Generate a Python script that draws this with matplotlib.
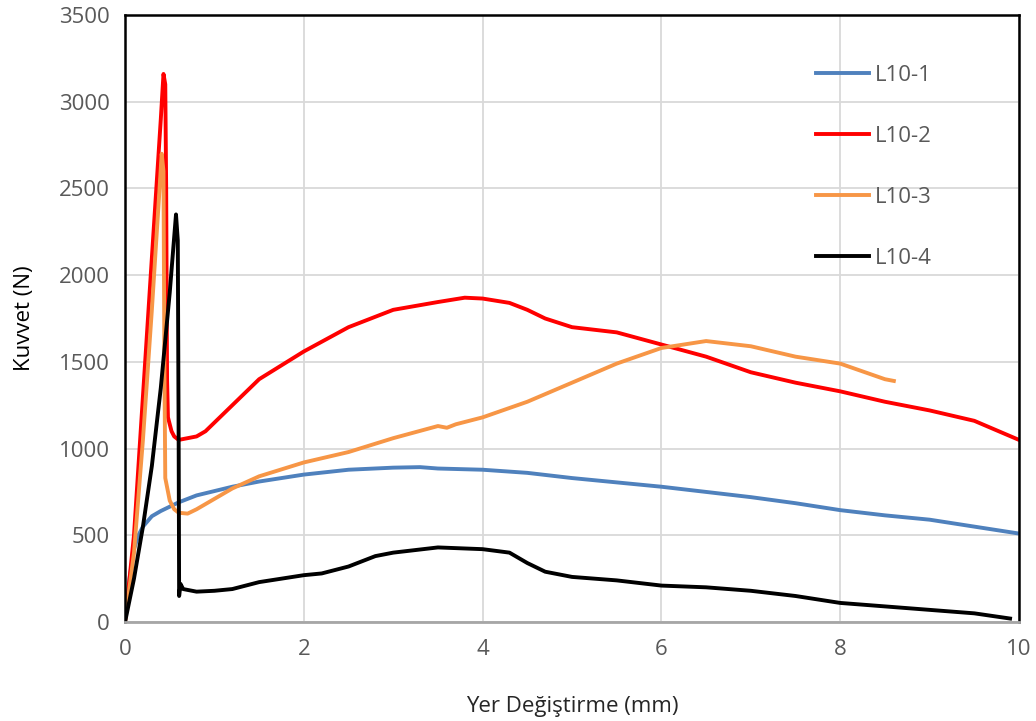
import matplotlib
import matplotlib.pyplot as plt
matplotlib.use('Agg')

# L10-1 (blue)
x1 = [0, 0.05, 0.1, 0.15, 0.2, 0.3, 0.4, 0.5, 0.6, 0.7, 0.8, 1.0, 1.2, 1.5, 2.0, 2.5, 3.0, 3.3,
      3.5, 4.0, 4.5, 5.0, 5.5, 6.0, 6.5, 7.0, 7.5, 8.0, 8.5, 9.0, 9.5, 10.0]
y1 = [0, 250, 420, 500, 550, 610, 640, 665, 690, 710, 730, 755, 780, 810, 850, 878, 890, 893,
      885, 878, 860, 830, 805, 780, 750, 720, 685, 645, 615, 590, 550, 510]

# L10-2 (red)
x2 = [0, 0.1, 0.2, 0.3, 0.4, 0.43, 0.45, 0.46, 0.47, 0.48, 0.52, 0.55, 0.6, 0.7, 0.8, 0.9, 1.0,
      1.2, 1.5, 2.0, 2.5, 3.0, 3.5, 3.8, 4.0, 4.3, 4.5, 4.7, 5.0, 5.5, 6.0, 6.5, 7.0, 7.5,
      8.0, 8.5, 9.0, 9.5, 10.0]
y2 = [0, 500, 1300, 2100, 2900, 3160, 3100, 2500, 1400, 1180, 1100, 1070, 1050, 1060, 1070, 1100,
      1150, 1250, 1400, 1560, 1700, 1800, 1845, 1870, 1865, 1840, 1800, 1750, 1700, 1670, 1600,
      1530, 1440, 1380, 1330, 1270, 1220, 1160, 1050]

# L10-3 (orange)
x3 = [0, 0.1, 0.2, 0.3, 0.38, 0.41, 0.43, 0.44, 0.45, 0.5, 0.55, 0.6, 0.7, 0.8, 1.0, 1.2, 1.5,
      2.0, 2.5, 3.0, 3.5, 3.6, 3.7, 4.0, 4.5, 5.0, 5.5, 6.0, 6.5, 7.0, 7.5, 8.0, 8.5, 8.6]
y3 = [0, 400, 1050, 1800, 2450, 2700, 2600, 1500, 830, 700, 650, 630, 625, 650, 710, 770, 840,
      920, 980, 1060, 1130, 1120, 1140, 1180, 1270, 1380, 1490, 1580, 1620, 1590, 1530, 1490,
      1400, 1390]

# L10-4 (black)
x4 = [0, 0.1, 0.2, 0.3, 0.4, 0.5, 0.57, 0.59, 0.6, 0.605, 0.62, 0.65, 0.8, 1.0, 1.2, 1.5, 2.0,
      2.2, 2.5, 2.8, 3.0, 3.5, 4.0, 4.3, 4.5, 4.7, 5.0, 5.5, 6.0, 6.5, 7.0, 7.5, 8.0, 8.5,
      9.0, 9.5, 9.9]
y4 = [0, 250, 550, 900, 1350, 1900, 2350, 2200, 1000, 150, 220, 190, 175, 180, 190, 230, 270,
      280, 320, 380, 400, 430, 420, 400, 340, 290, 260, 240, 210, 200, 180, 150, 110, 90, 70,
      50, 20]

series = [
    ('L10-1', x1, y1, '#4f81bd'),
    ('L10-2', x2, y2, '#ff0000'),
    ('L10-3', x3, y3, '#f79646'),
    ('L10-4', x4, y4, '#000000'),
]

plt.rcParams['font.family'] = ['Open Sans', 'DejaVu Sans']

fig = plt.figure(figsize=(10.36, 7.21), dpi=100)
ax = fig.add_axes([0.1207, 0.1373, 0.8629, 0.8419])

for name, xs, ys, col in series:
    ax.plot(xs, ys, color=col, lw=2.8, label=name, solid_joinstyle='round')

ax.set_xlim(0, 10)
ax.set_ylim(0, 3500)
ax.set_xticks(range(0, 11, 2))
ax.set_yticks(range(0, 3501, 500))
ax.grid(True, color='#d9d9d9', lw=1.3)
ax.set_axisbelow(True)

for side in ['top', 'right', 'left']:
    ax.spines[side].set_color('black')
    ax.spines[side].set_linewidth(1.8)
ax.spines['bottom'].set_color('#a6a6a6')
ax.spines['bottom'].set_linewidth(2)

ax.tick_params(length=0, labelsize=16, labelcolor='#595959')
ax.tick_params(axis='y', pad=11)
ax.tick_params(axis='x', pad=12)

ax.set_xlabel('Yer Değiştirme (mm)', fontsize=16, color='#262626', labelpad=26)
ax.set_ylabel('Kuvvet (N)', fontsize=16, color='black', labelpad=17)

leg = ax.legend(loc='upper left', bbox_to_anchor=(0.750, 0.951), frameon=False, fontsize=16,
                labelspacing=1.8, handlelength=2.4, handletextpad=0.27, borderpad=0.4)
for t in leg.get_texts():
    t.set_color('#595959')

fig.savefig('out.png', dpi=100)
